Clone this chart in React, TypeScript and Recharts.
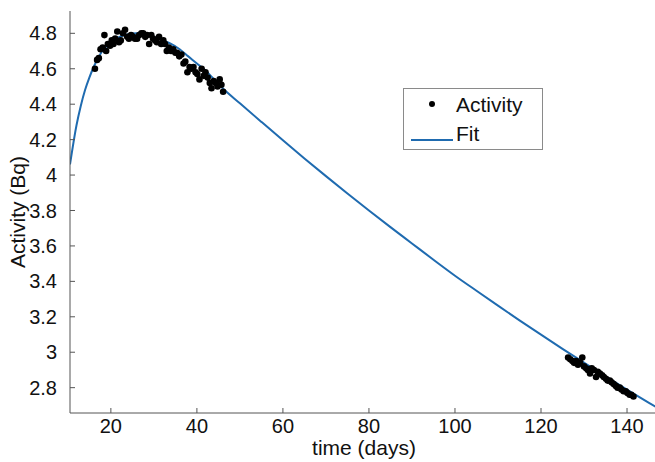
import React from 'react';
import { ComposedChart, Line, Scatter, XAxis, YAxis } from 'recharts';

// measured activity (days, Bq)
const activityDays = [
  16.3, 16.8, 17.2, 17.6, 18.1, 18.5, 18.9, 19.3, 19.8, 20.2, 20.6, 21.0, 21.5, 21.9, 22.3, 22.8,
  23.3, 23.8, 24.2, 24.7, 25.2, 25.6, 26.1, 26.6, 27.1, 27.5, 28.0, 28.4, 28.9, 29.4, 29.8, 30.3,
  30.7, 31.2, 31.7, 32.2, 32.6, 33.0, 33.5, 34.0, 34.5, 35.0, 35.4, 35.9, 36.4, 36.9, 37.3, 37.8,
  38.3, 38.7, 39.2, 39.7, 40.1, 40.6, 41.1, 41.6, 42.0, 42.5, 43.0, 43.4, 43.9, 44.4, 44.8, 45.3,
  45.7, 46.1,
  126.3, 126.8, 127.3, 127.7, 128.2, 128.6, 129.1, 129.6, 130.0, 130.5, 130.9, 131.4, 131.8, 132.3,
  132.8, 133.2, 133.7, 134.2, 134.6, 135.1, 135.5, 136.0, 136.4, 136.9, 137.4, 137.8, 138.3, 138.7,
  139.2, 139.7, 140.1, 140.6, 141.0, 141.5,
];
const activityValues = [
  4.60, 4.65, 4.66, 4.71, 4.72, 4.79, 4.70, 4.74, 4.73, 4.76, 4.74, 4.77, 4.81, 4.75, 4.76, 4.80,
  4.82, 4.78, 4.77, 4.79, 4.78, 4.77, 4.77, 4.79, 4.80, 4.80, 4.78, 4.79, 4.74, 4.79, 4.77, 4.76,
  4.75, 4.78, 4.74, 4.76, 4.74, 4.70, 4.72, 4.70, 4.71, 4.69, 4.69, 4.67, 4.68, 4.63, 4.64, 4.58,
  4.61, 4.60, 4.61, 4.58, 4.57, 4.54, 4.60, 4.56, 4.58, 4.55, 4.52, 4.49, 4.53, 4.52, 4.50, 4.54,
  4.51, 4.47,
  2.97, 2.96, 2.95, 2.94, 2.95, 2.93, 2.94, 2.97, 2.92, 2.91, 2.90, 2.88, 2.91, 2.90,
  2.86, 2.89, 2.88, 2.87, 2.86, 2.85, 2.84, 2.84, 2.83, 2.82, 2.81, 2.80, 2.80, 2.79,
  2.78, 2.78, 2.77, 2.76, 2.76, 2.75,
];

// fitted curve
const fitDays = [
  10.5, 12, 13, 14, 15, 16, 18, 20, 22, 24, 26, 28, 30, 32, 34, 36, 38, 40, 42, 44, 46, 50, 55,
  60, 65, 70, 75, 80, 85, 90, 95, 100, 105, 110, 115, 120, 125, 130, 135, 140, 145, 147.2,
];
const fitValues = [
  4.06, 4.28, 4.39, 4.48, 4.55, 4.61, 4.70, 4.75, 4.78, 4.795, 4.80, 4.795, 4.78, 4.76, 4.74,
  4.71, 4.67, 4.63, 4.59, 4.54, 4.49, 4.405, 4.300, 4.196, 4.094, 3.994, 3.896, 3.800, 3.706,
  3.614, 3.522, 3.432, 3.347, 3.263, 3.180, 3.099, 3.019, 2.941, 2.864, 2.789, 2.716, 2.685,
];

const xTicks = [20, 40, 60, 80, 100, 120, 140];
const yTicks = [2.8, 3, 3.2, 3.4, 3.6, 3.8, 4, 4.2, 4.4, 4.6, 4.8];

const activity = activityDays.map((t, i) => ({ t, a: activityValues[i] }));
const fit = fitDays.map((t, i) => ({ t, a: fitValues[i] }));

const FONT = '"Liberation Sans", Arial, sans-serif';
const AXIS = '#555';
const BLUE = '#1f6bb0';

const Dot = (props: any) => <circle cx={props.cx} cy={props.cy} r={3.3} fill="#000" />;

// legend drawn as an overlay box, like the MATLAB one
const LegendBox = () => (
  <svg
    width={140}
    height={62}
    style={{ position: 'absolute', left: 403, top: 88, background: '#fff' }}
  >
    <rect x={0.5} y={0.5} width={139} height={61} fill="#fff" stroke="#8a8a8a" />
    <circle cx={29} cy={16} r={3} fill="#000" />
    <line x1={8} x2={50} y1={52} y2={52} stroke={BLUE} strokeWidth={2} />
    <text x={53} y={24} fontSize={21} fontFamily={FONT} fill="#111">Activity</text>
    <text x={53} y={53} fontSize={21} fontFamily={FONT} fill="#111">Fit</text>
  </svg>
);

export default function App() {
  return (
    <div style={{ position: 'absolute', left: 0, top: 0, width: 655, height: 462, overflow: 'hidden', background: '#fff' }}>
      <ComposedChart width={660} height={462} margin={{ top: 11, right: 2, bottom: 0, left: 0 }}>
        <XAxis
          dataKey="t"
          type="number"
          domain={[10.5, 147.2]}
          allowDataOverflow
          ticks={xTicks}
          interval={0}
          height={49}
          tickSize={-5}
          tickMargin={11}
          stroke={AXIS}
          tick={{ fill: '#111', fontSize: 20, fontFamily: FONT }}
          label={{
            content: () => (
              <text x={364} y={455} textAnchor="middle" fontSize={21} fontFamily={FONT} fill="#111">
                time (days)
              </text>
            ),
          }}
        />
        <XAxis
          xAxisId="top"
          orientation="top"
          type="number"
          domain={[10.5, 147.2]}
          allowDataOverflow
          ticks={xTicks}
          interval={0}
          height={0}
          tickSize={-5}
          tick={false}
          stroke={AXIS}
        />
        <YAxis
          dataKey="a"
          type="number"
          domain={[2.657, 4.926]}
          allowDataOverflow
          ticks={yTicks}
          interval={0}
          width={70}
          tickSize={-5}
          tickMargin={18}
          tickFormatter={(v: number) => String(v)}
          stroke={AXIS}
          tick={{ fill: '#111', fontSize: 20, fontFamily: FONT }}
          label={{
            content: () => (
              <text
                x={0}
                y={0}
                transform="translate(17 212) rotate(-90)"
                textAnchor="middle"
                dominantBaseline="central"
                fontSize={21}
                fontFamily={FONT}
                fill="#111"
              >
                Activity (Bq)
              </text>
            ),
          }}
        />
        <YAxis
          yAxisId="right"
          orientation="right"
          type="number"
          domain={[2.657, 4.926]}
          allowDataOverflow
          ticks={yTicks}
          interval={0}
          width={0}
          tickSize={-5}
          tick={false}
          stroke={AXIS}
        />
        <Line
          data={fit}
          dataKey="a"
          type="monotone"
          stroke={BLUE}
          strokeWidth={2}
          dot={false}
          isAnimationActive={false}
        />
        <Scatter data={activity} dataKey="a" shape={Dot} isAnimationActive={false} />
      </ComposedChart>
      <LegendBox />
    </div>
  );
}
